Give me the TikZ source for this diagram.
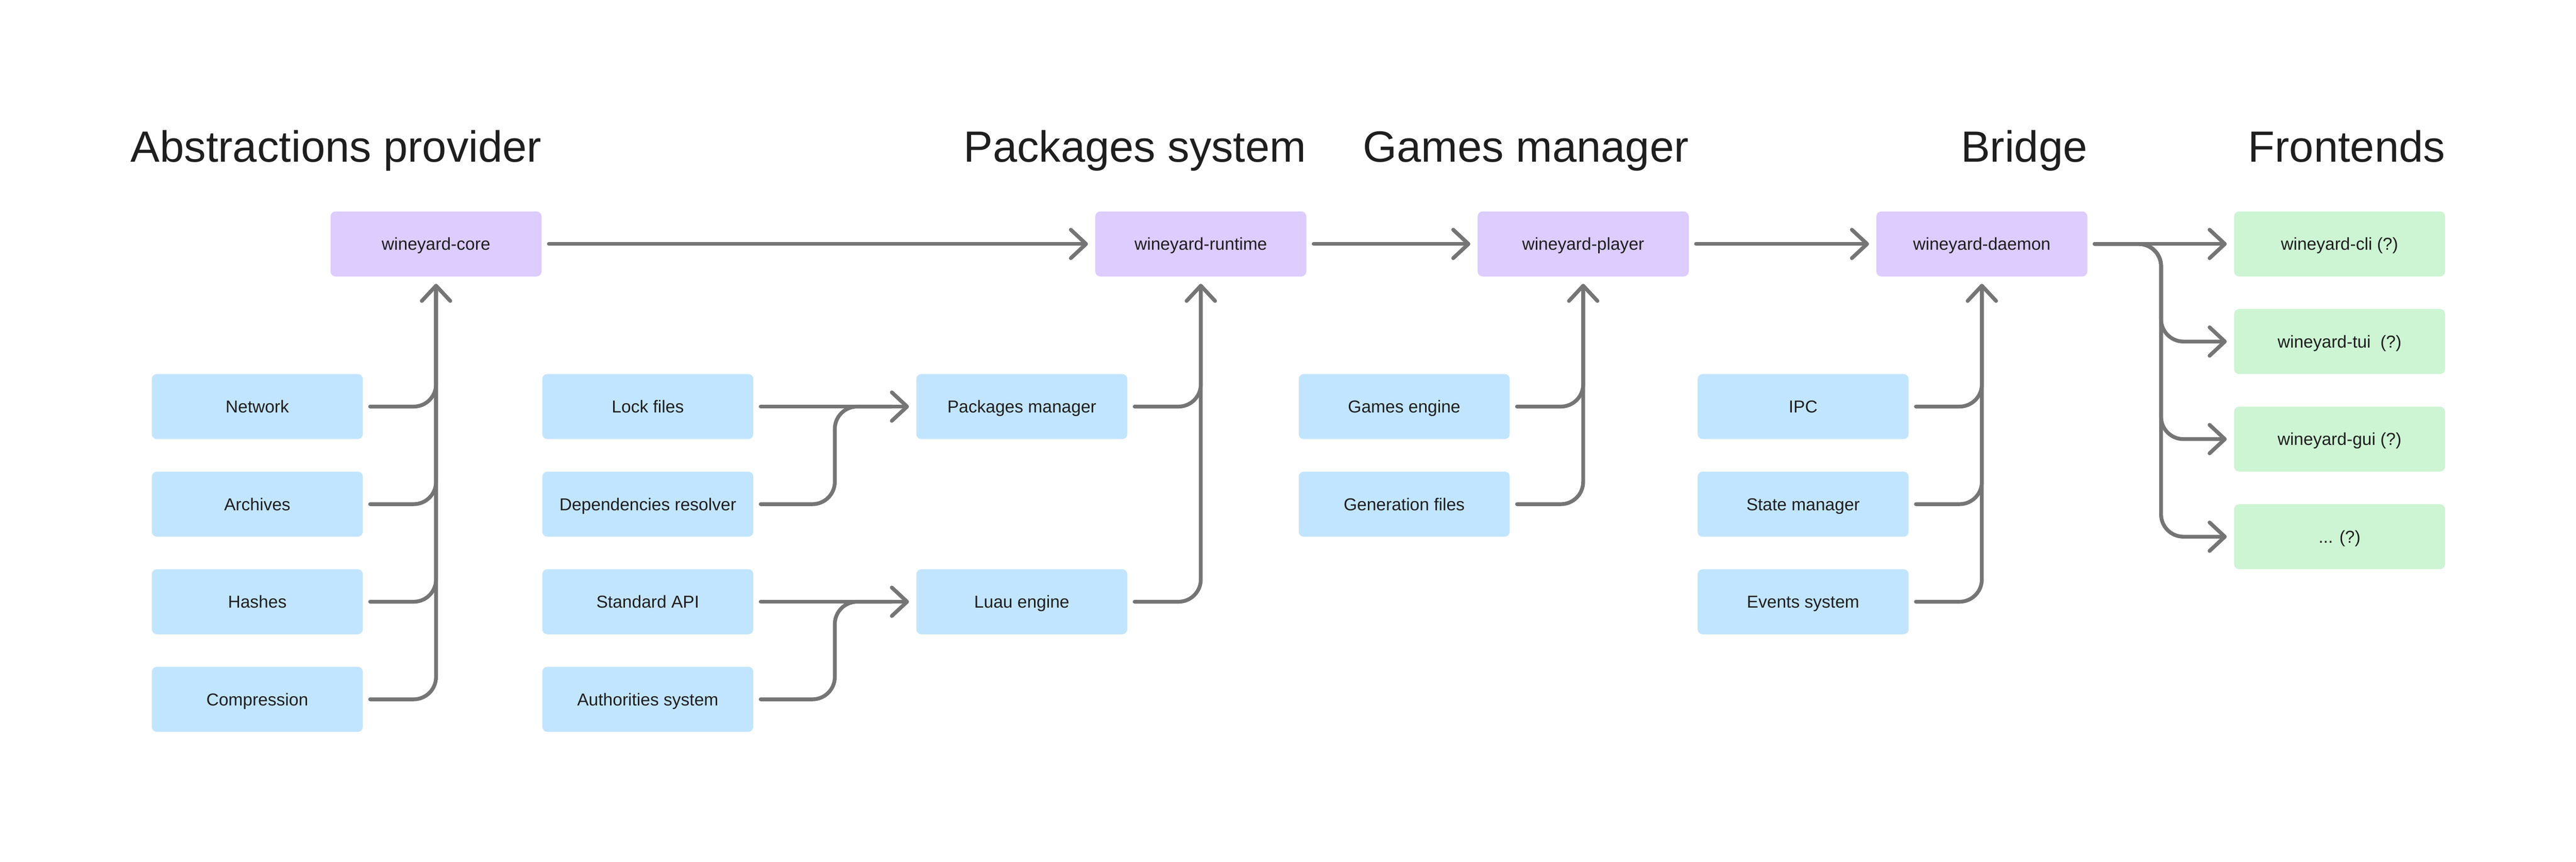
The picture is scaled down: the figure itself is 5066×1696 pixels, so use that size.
\documentclass[tikz,border=0pt]{standalone}
\usepackage{fontspec}
\setmainfont{Liberation Sans}
\usetikzlibrary{arrows.meta,calc}
\definecolor{purp}{HTML}{DCCCFF}
\definecolor{bluebox}{HTML}{C2E5FF}
\definecolor{greenbox}{HTML}{CDF5D4}
\definecolor{conncol}{HTML}{757575}
\definecolor{txt}{HTML}{1E1E1E}
\begin{document}
\begin{tikzpicture}[x=0.5pt,y=-0.5pt,
  box/.style={rounded corners=5pt, minimum width=207.5pt, minimum height=64pt, inner sep=0pt, text height=12.2pt, text depth=0pt, text=txt, font=\fontsize{17}{20}\selectfont},
  pbox/.style={box, fill=purp},
  bbox/.style={box, fill=bluebox},
  gbox/.style={box, fill=greenbox},
  conn/.style={draw=conncol, line width=3.75pt, line cap=round, line join=round, rounded corners=22pt},
  arr/.style={-{Straight Barb[length=15pt,width=28pt,round]}},
  title/.style={anchor=base east, inner sep=0pt, text=txt, font=\fontsize{43}{50}\selectfont}]
\useasboundingbox[fill=white] (0,0) rectangle (5066,1696);
\coordinate (tb) at (0,319);
% top row
\node[pbox] (core) at (857.5,480) {wineyard-core};
\node[pbox] (runtime) at (2361.5,480) {wineyard-runtime};
\node[pbox] (player) at (3113.5,480) {wineyard-player};
\node[pbox] (daemon) at (3897.5,480) {wineyard-daemon};
% frontends
\node[gbox] (cli) at (4601,480) {wineyard-cli (?)};
\node[gbox] (tui) at (4601,672) {wineyard-tui\ \ (?)};
\node[gbox] (gui) at (4601,864) {wineyard-gui (?)};
\node[gbox] (more) at (4601,1056) {... (?)};
% column 1
\node[bbox] (net) at (506,800) {Network};
\node[bbox] (arch) at (506,992) {Archives};
\node[bbox] (hash) at (506,1184) {Hashes};
\node[bbox] (comp) at (506,1376) {Compression};
% column 2
\node[bbox] (lock) at (1274,800) {Lock files};
\node[bbox] (dep) at (1274,992) {Dependencies resolver};
\node[bbox] (std) at (1274,1184) {Standard API};
\node[bbox] (auth) at (1274,1376) {Authorities system};
% column 3
\node[bbox] (pm) at (2009.5,800) {Packages manager};
\node[bbox] (luau) at (2009.5,1184) {Luau engine};
% column 4
\node[bbox] (games) at (2761.5,800) {Games engine};
\node[bbox] (gen) at (2761.5,992) {Generation files};
% column 5
\node[bbox] (ipc) at (3546,800) {IPC};
\node[bbox] (state) at (3546,992) {State manager};
\node[bbox] (events) at (3546,1184) {Events system};
% titles
\node[title] at (core.east |- tb) {Abstractions provider};
\node[title] at (runtime.east |- tb) {Packages system};
\node[title] at (player.east |- tb) {Games manager};
\node[title] at (daemon.east |- tb) {Bridge};
\node[title] at (cli.east |- tb) {Frontends};
% top chain
\draw[conn,arr] ([xshift=7pt]core.east) -- ([xshift=-7pt]runtime.west);
\draw[conn,arr] ([xshift=7pt]runtime.east) -- ([xshift=-7pt]player.west);
\draw[conn,arr] ([xshift=7pt]player.east) -- ([xshift=-7pt]daemon.west);
\draw[conn,arr] ([xshift=7pt]daemon.east) -- ([xshift=-7pt]cli.west);
% column 1 to core
\draw[conn] ([xshift=7pt]net.east) -| ([yshift=-14pt]core.south);
\draw[conn] ([xshift=7pt]arch.east) -| ([yshift=-14pt]core.south);
\draw[conn] ([xshift=7pt]hash.east) -| ([yshift=-14pt]core.south);
\draw[conn,arr] ([xshift=7pt]comp.east) -| ([yshift=-7pt]core.south);
% column 2 to column 3
\draw[conn,arr] ([xshift=7pt]lock.east) -- ([xshift=-7pt]pm.west);
\draw[conn] ([xshift=7pt]dep.east) -| ($(lock.east)!.5!(pm.west)$) -- ([xshift=-24pt]pm.west);
\draw[conn,arr] ([xshift=7pt]std.east) -- ([xshift=-7pt]luau.west);
\draw[conn] ([xshift=7pt]auth.east) -| ($(std.east)!.5!(luau.west)$) -- ([xshift=-24pt]luau.west);
% column 3 to runtime
\draw[conn] ([xshift=7pt]pm.east) -| ([yshift=-14pt]runtime.south);
\draw[conn,arr] ([xshift=7pt]luau.east) -| ([yshift=-7pt]runtime.south);
% column 4 to player
\draw[conn] ([xshift=7pt]games.east) -| ([yshift=-14pt]player.south);
\draw[conn,arr] ([xshift=7pt]gen.east) -| ([yshift=-7pt]player.south);
% column 5 to daemon
\draw[conn] ([xshift=7pt]ipc.east) -| ([yshift=-14pt]daemon.south);
\draw[conn] ([xshift=7pt]state.east) -| ([yshift=-14pt]daemon.south);
\draw[conn,arr] ([xshift=7pt]events.east) -| ([yshift=-7pt]daemon.south);
% daemon to frontends
\coordinate (fork) at (4250,480);
\draw[conn,arr] ([xshift=7pt]daemon.east) -- (fork) |- ([xshift=-7pt]tui.west);
\draw[conn,arr] ([xshift=7pt]daemon.east) -- (fork) |- ([xshift=-7pt]gui.west);
\draw[conn,arr] ([xshift=7pt]daemon.east) -- (fork) |- ([xshift=-7pt]more.west);
\end{tikzpicture}
\end{document}
